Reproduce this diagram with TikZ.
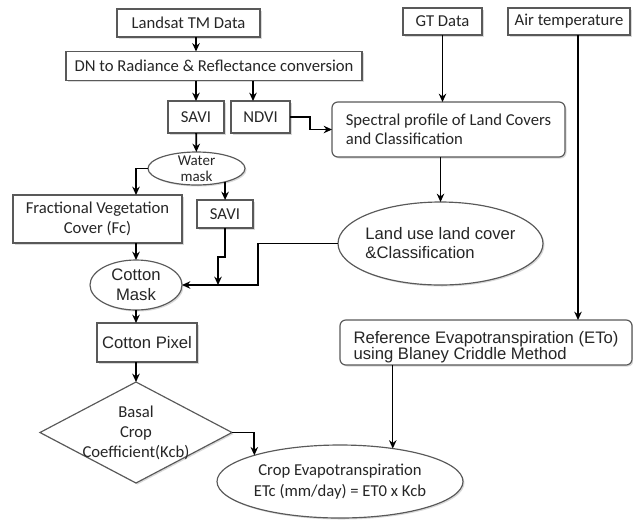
\documentclass[tikz,border=0pt]{standalone}
\usepackage{fontspec}
\setmainfont{Carlito}
\newfontfamily\arialfont{Liberation Sans}
\usetikzlibrary{shapes.geometric,arrows.meta,shadows}

\begin{document}
\begin{tikzpicture}[x=0.6pt, y=-0.6pt,
  every node/.style={outer sep=0pt, inner sep=0pt, text=black!85, font=\fontsize{10}{12}\selectfont},
  box/.style={draw=black!65, line width=0.7pt, fill=white, drop shadow={shadow xshift=0.9pt, shadow yshift=-0.9pt, opacity=0.3}},
  rbox/.style={box, rounded corners=3.5pt, align=left},
  oval/.style={box, ellipse, align=center},
  kite/.style={box, diamond, align=center, aspect=1.9, inner sep=-3pt},
  arr/.style={-{Stealth[length=5pt, width=4.5pt]}, line width=1.1pt},
  thinarr/.style={arr, line width=0.8pt}]
\useasboundingbox (0,0) rectangle (633,520);

\node[box, minimum width=85.8pt, minimum height=16.8pt] (landsat) at (188.5,23) {Landsat TM Data};
\node[box, minimum width=177.6pt, minimum height=17.4pt] (dn) at (214,66) {DN to Radiance \& Reflectance conversion};
\node[box, minimum width=33.6pt, minimum height=19.2pt] (savi) at (196,117) {SAVI};
\node[box, minimum width=35.4pt, minimum height=19.2pt] (ndvi) at (260.5,117) {NDVI};
\node[oval, minimum width=58.2pt, minimum height=19.8pt, inner ysep=-4pt, font=\fontsize{9}{9.6}\selectfont] (water) at (196.5,168.5) {Water\\mask};
\node[box, minimum width=101.4pt, minimum height=28.8pt, align=center] (fc) at (97.5,219) {Fractional Vegetation\\Cover (Fc)};
\node[box, minimum width=33.6pt, minimum height=16.8pt] (savi2) at (225,214) {SAVI};
\node[oval, minimum width=55.2pt, minimum height=30pt, font=\arialfont\fontsize{10}{12}\selectfont] (cotmask) at (136,285) {Cotton\\Mask};
\node[box, minimum width=60pt, minimum height=23.4pt, font=\arialfont\fontsize{10}{12}\selectfont] (cotpix) at (147,342.5) {Cotton Pixel};
\node[kite, minimum width=115.2pt, minimum height=60.6pt] (kcb) at (136,432.5) {Basal\\Crop\\Coefficient(Kcb)};
\node[oval, minimum width=147.6pt, minimum height=43.8pt, inner sep=-8pt, font=\fontsize{10}{12.6}\selectfont] (cropet) at (340,481.5) {Crop Evapotranspiration\\ETc (mm/day) = ET0 x Kcb};

\node[box, minimum width=47.4pt, minimum height=16.2pt] (gt) at (442.5,21.5) {GT Data};
\node[box, minimum width=73.2pt, minimum height=16.2pt] (air) at (569,21.5) {Air temperature};
\node[rbox, minimum width=139.8pt, minimum height=33pt, font=\fontsize{10}{11.4}\selectfont] (spectral) at (448.5,129.5) {Spectral profile of Land Covers\\and Classification};
\node[oval, align=left, minimum width=123pt, minimum height=49.8pt, inner sep=-2pt, font=\arialfont\fontsize{10}{11.4}\selectfont] (landuse) at (440.5,243.5) {Land use land cover\\\&Classification};
\node[rbox, minimum width=175.2pt, minimum height=27pt, font=\arialfont\fontsize{10}{9.5}\selectfont] (refet) at (486,342.5) {\rule{0pt}{13pt}Reference Evapotranspiration (ETo)\\using Blaney Criddle Method};

\draw[arr] (savi|-landsat.south) -- (savi|-dn.north);
\draw[arr] (savi|-dn.south) -- (savi);
\draw[arr] ([xshift=-4.5pt]ndvi.north|-dn.south) -- ([xshift=-4.5pt]ndvi.north);
\draw[arr] (ndvi.east) -- ++(20,0) |- (spectral.west);
\draw[arr] (savi) -- (water);
\draw[arr] (water.west) -| (cotmask|-fc.north);
\draw[arr] (water.-25) -- (water.-25|-savi2.north);
\draw[arr] (cotmask|-fc.south) -- (cotmask);
\draw[arr] (savi2.south) -- ++(0,29) -| ([xshift=-4.2pt]savi2.south|-cotmask.east);
\draw[arr] (landuse.west) -- ++(-80,0) |- (cotmask.east);
\draw[arr] (cotmask) -- (cotmask|-cotpix.north);
\draw[arr] (cotmask|-cotpix.south) -- (kcb);
\draw[arr] (kcb.east) -| (cropet.163);
\draw[arr] (gt) -- (gt|-spectral.north);
\draw[arr] (spectral.south-|landuse) -- (landuse);
\draw[thinarr] ([xshift=5.4pt]air.south) -- ([xshift=5.4pt]air.south|-refet.north);
\draw[thinarr] (refet.south-|cropet.32.5) -- (cropet.32.5);
\end{tikzpicture}
\end{document}
